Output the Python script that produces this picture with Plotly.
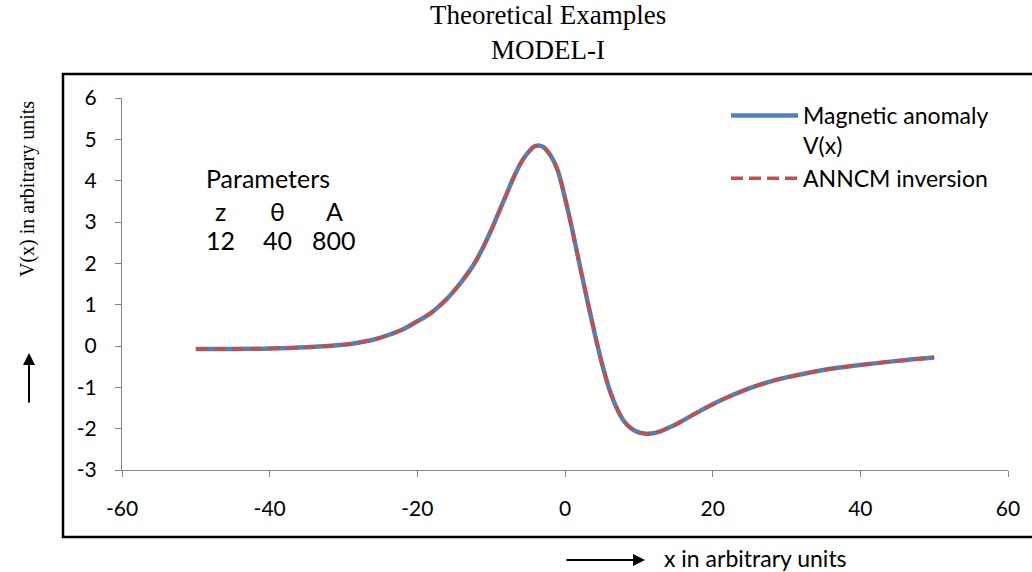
import plotly.graph_objects as go

# ---- data ----
x_values = [-50, -45, -40, -35, -30, -28, -26, -24, -22, -20, -19, -18, -17, -16, -15, -14, -13, -12, -11, -10,
            -9, -8, -7, -6, -5, -4, -3, -2, -1, 0, 1, 2, 3, 4, 5, 6, 7, 8, 9, 10, 11, 12, 13, 14, 15, 16,
            18, 20, 22, 24, 26, 28, 30, 35, 40, 45, 50]
v_anomaly = [-0.07, -0.07, -0.06, -0.03, 0.03, 0.08, 0.15, 0.26, 0.40, 0.60, 0.70, 0.82, 0.97, 1.14, 1.34,
             1.56, 1.80, 2.08, 2.42, 2.80, 3.22, 3.64, 4.06, 4.42, 4.68, 4.84, 4.82, 4.62, 4.25, 3.58, 2.80,
             1.95, 1.12, 0.32, -0.42, -1.04, -1.50, -1.82, -2.00, -2.09, -2.12, -2.11, -2.06, -1.98, -1.90,
             -1.80, -1.60, -1.41, -1.24, -1.09, -0.96, -0.85, -0.76, -0.58, -0.46, -0.36, -0.28]
v_anncm = [-0.07, -0.07, -0.06, -0.03, 0.03, 0.08, 0.15, 0.26, 0.40, 0.60, 0.70, 0.82, 0.97, 1.14, 1.34,
           1.56, 1.80, 2.08, 2.42, 2.80, 3.22, 3.64, 4.06, 4.42, 4.68, 4.84, 4.82, 4.62, 4.25, 3.58, 2.80,
           1.95, 1.12, 0.32, -0.42, -1.04, -1.50, -1.82, -2.00, -2.09, -2.12, -2.11, -2.06, -1.98, -1.90,
           -1.80, -1.60, -1.41, -1.24, -1.09, -0.96, -0.85, -0.76, -0.58, -0.46, -0.36, -0.28]
param_names = ["z", "θ", "A"]
param_values = ["12", "40", "800"]
x_ticks = [-60, -40, -20, 0, 20, 40, 60]
y_ticks = [-3, -2, -1, 0, 1, 2, 3, 4, 5, 6]
x_ticklabels = [str(v) for v in x_ticks]
y_ticklabels = [str(v) for v in y_ticks]

W, H = 1032, 572
L, R, T, B = 122, 24, 98, 102
PW, PH = W - L - R, H - T - B


def px_x(p):
    return (p - L) / PW


def px_y(p):
    return (H - B - p) / PH


SANS = "Lato"
SERIF = "Liberation Serif"

fig = go.Figure()
fig.add_trace(go.Scatter(x=x_values, y=v_anomaly, mode="lines", name="Magnetic anomaly<br>V(x)",
                         line=dict(color="#4F81BD", width=4.5, shape="spline", smoothing=1.0)))
fig.add_trace(go.Scatter(x=x_values, y=v_anncm, mode="lines", name="ANNCM inversion",
                         line=dict(color="#C0504D", width=3.5, dash="12px,6px", shape="spline", smoothing=1.0)))

axis_common = dict(showline=True, linecolor="#868686", linewidth=1, ticks="outside", ticklen=6,
                   tickcolor="#868686", showgrid=False, zeroline=False,
                   tickfont=dict(family=SANS, size=21, color="black"))
fig.update_xaxes(range=[-60, 60], tickvals=x_ticks, ticktext=x_ticklabels, ticklabelstandoff=14, **axis_common)
fig.update_yaxes(range=[-3, 6], tickvals=y_ticks, ticktext=y_ticklabels, ticklabelstandoff=14, **axis_common)

annotations = []
# title (two lines)
annotations.append(dict(text="Theoretical Examples<br>MODEL-I", x=px_x(548), y=px_y(33), xref="paper",
                        yref="paper", showarrow=False, align="center",
                        font=dict(family=SERIF, size=27, color="black"),
                        xanchor="center", yanchor="middle"))
# y axis title and arrow
annotations.append(dict(text="V(x) in arbitrary units", x=px_x(27), y=px_y(189), xref="paper", yref="paper",
                        showarrow=False, textangle=-90, font=dict(family=SERIF, size=20, color="black"),
                        xanchor="center", yanchor="middle"))
annotations.append(dict(text="", x=px_x(29), y=px_y(353), xref="paper", yref="paper",
                        ax=0, ay=51, axref="pixel", ayref="pixel",
                        showarrow=True, arrowhead=2, arrowsize=1.2, arrowwidth=2, arrowcolor="black"))
# x axis title and arrow
annotations.append(dict(text="x in arbitrary units", x=px_x(662), y=px_y(558), xref="paper", yref="paper",
                        showarrow=False, font=dict(family=SANS, size=23, color="black"),
                        xanchor="left", yanchor="middle"))
annotations.append(dict(text="", x=px_x(645), y=px_y(560), xref="paper", yref="paper",
                        ax=-80, ay=0, axref="pixel", ayref="pixel",
                        showarrow=True, arrowhead=2, arrowsize=1.2, arrowwidth=2, arrowcolor="black"))
# parameters block
annotations.append(dict(text="Parameters", x=px_x(204), y=px_y(178), xref="paper", yref="paper",
                        showarrow=False, font=dict(family=SANS, size=25, color="black"),
                        xanchor="left", yanchor="middle"))
col_px = [220, 277, 334]
for name, val, cx in zip(param_names, param_values, col_px):
    annotations.append(dict(text=name, x=px_x(cx), y=px_y(211), xref="paper", yref="paper",
                            showarrow=False, font=dict(family=SANS, size=25, color="black"),
                            xanchor="center", yanchor="middle"))
    annotations.append(dict(text=val, x=px_x(cx), y=px_y(240), xref="paper", yref="paper",
                            showarrow=False, font=dict(family=SANS, size=25, color="black"),
                            xanchor="center", yanchor="middle"))

shapes = [dict(type="rect", xref="paper", yref="paper", x0=px_x(63), x1=px_x(1045), y0=px_y(537), y1=px_y(74),
               line=dict(color="black", width=2.5), fillcolor="rgba(0,0,0,0)", layer="below")]

fig.update_layout(
    width=W, height=H, margin=dict(l=L, r=R, t=T, b=B, pad=0),
    paper_bgcolor="white", plot_bgcolor="white",
    showlegend=True,
    legend=dict(x=px_x(726), y=px_y(94), xanchor="left", yanchor="top", bgcolor="rgba(0,0,0,0)",
                font=dict(family=SANS, size=23, color="black"), itemwidth=67, valign="top",
                tracegroupgap=6),
    annotations=annotations, shapes=shapes,
)

fig.write_html("out.html", config={"displayModeBar": False},
               post_script="document.body.style.margin='0';")
